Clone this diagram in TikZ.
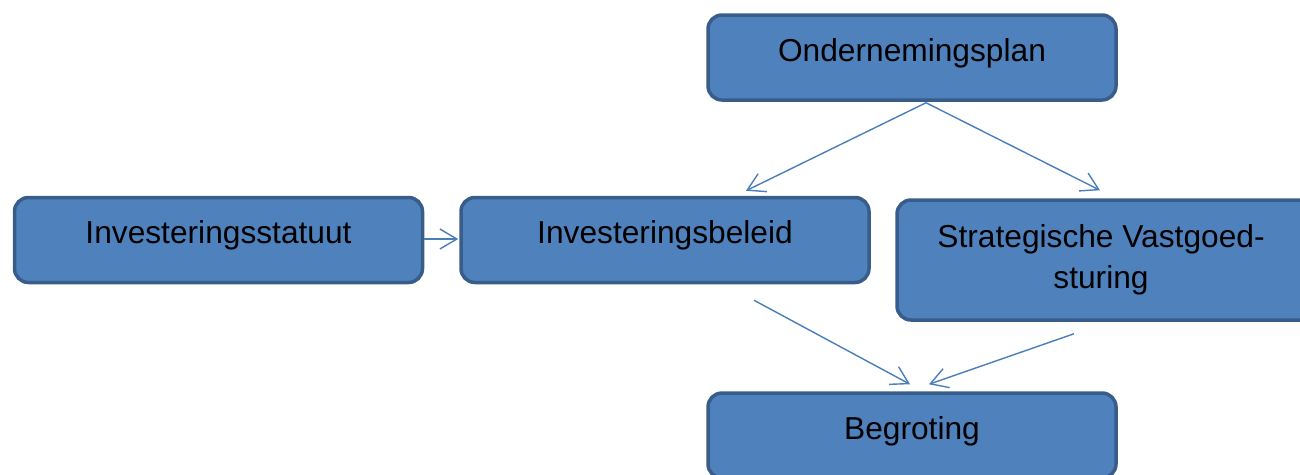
\documentclass[tikz,border=0pt]{standalone}
\usepackage{fontspec}
\setmainfont{Liberation Sans}
\usetikzlibrary{arrows.meta,calc}
\definecolor{boxfill}{HTML}{4F81BD}
\definecolor{boxline}{HTML}{385D8A}
\definecolor{arrowc}{HTML}{4A7EBB}
\begin{document}
\begin{tikzpicture}[x=1pt,y=-1pt,
  boxtext/.style={text=black, font=\fontsize{31.7}{41}\selectfont, align=center},
  box/.style={draw=boxline, fill=boxfill, line width=3.5pt, rounded corners=14pt,
    minimum width=408pt, inner sep=0pt, boxtext},
  onebox/.style={box, minimum height=85pt, text height=23pt, text depth=16pt},
  conn/.style={draw=arrowc, line width=1.4pt,
    -{Straight Barb[length=17pt,width=20pt,line width=1.4pt]}}]
\useasboundingbox (0,0) rectangle (1300,474);
\clip (0,0) rectangle (1300,474);
\node[onebox] (plan) at (912,57.5) {Ondernemingsplan};
\node[onebox] (statuut) at (218.5,240) {Investeringsstatuut};
\node[onebox] (beleid) at (665,240) {Investeringsbeleid};
\node[box, minimum width=440pt, minimum height=120pt,
  label={[boxtext, name=strattext, xshift=-16pt]center:Strategische Vastgoed-\\sturing}]
  (strat) at (1117,260) {};
\node[onebox] (begroting) at (912,435.5) {Begroting};
\draw[conn] ($(plan.south)+(14,1)$) -- ($(beleid.north)+(81,-5)$);
\draw[conn] ($(plan.south)+(14,1)$) -- ($(strat.north)+(-17,-8)$);
\draw[conn] ($(statuut.east)+(0,-1)$) -- ($(beleid.west)+(-1,-1)$);
\draw[conn] ($(beleid.south)+(89,16)$) -- ($(begroting.north)+(-2,-7)$);
\draw[conn] ($(strat.south)+(-43,12)$) -- ($(begroting.north)+(17,-7)$);
\end{tikzpicture}
\end{document}
